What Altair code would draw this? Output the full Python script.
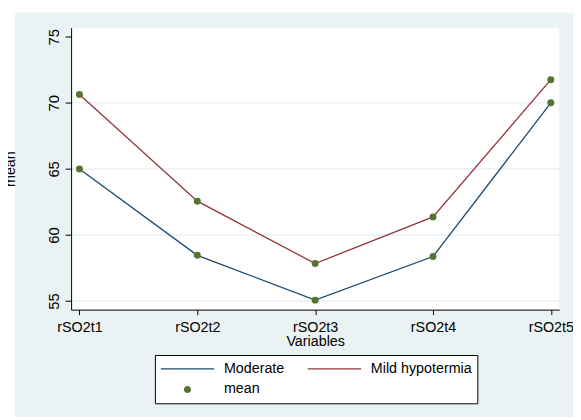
import altair as alt
import pandas as pd

# ---- data ----
times = ["rSO2t1", "rSO2t2", "rSO2t3", "rSO2t4", "rSO2t5"]
moderate = [65.0, 58.46, 55.07, 58.37, 70.0]
mild = [70.63, 62.56, 57.84, 61.37, 71.75]
y_ticks = [55, 60, 65, 70, 75]
grid_vals = [55, 60, 65, 70]
legend_items = ["Moderate", "Mild hypotermia", "mean"]

BLUE = "#1a476f"
RED = "#90353b"
GREEN = "#55752f"
BG = "#eaf2f3"
FONT = "Liberation Sans"

W, H = 495, 286

df = pd.DataFrame(
    {
        "time": times * 2,
        "mean": moderate + mild,
        "group": ["Moderate"] * len(times) + ["Mild hypotermia"] * len(times),
    }
)
grid_df = pd.DataFrame({"v": grid_vals})
leg_df = pd.DataFrame({"group": legend_items})
one = pd.DataFrame({"a": [0]})

yscale = alt.Scale(domain=[54.35, 75.69], nice=False, zero=False)
xscale = alt.Scale(type="point", padding=0.071)

x_axis = alt.Axis(
    title="Variables",
    labelFontSize=14.5,
    labelFont=FONT,
    labelColor="black",
    labelPadding=6,
    tickSize=5,
    tickColor="black",
    domainColor="black",
    grid=False,
    labelAngle=0,
    titleFont=FONT,
    titleFontSize=14.5,
    titleFontWeight="normal",
    titleColor="black",
    titleBaseline="alphabetic",
    titleY=36,
    zindex=1,
)
y_axis = alt.Axis(
    title="mean",
    values=y_ticks,
    labelFontSize=15,
    labelFont=FONT,
    labelColor="black",
    labelAngle=270,
    labelAlign="center",
    labelBaseline="alphabetic",
    labelPadding=6.5,
    tickSize=6,
    tickColor="black",
    domainColor="black",
    grid=False,
    titleFont=FONT,
    titleFontSize=14.5,
    titleFontWeight="normal",
    titleColor="black",
    titleAngle=270,
    titleAlign="center",
    titleBaseline="alphabetic",
    titleX=-57.5,
    titleY=H / 2,
    zindex=1,
)

outer_bg = alt.Chart(one).mark_rect(color=BG).encode(
    x=alt.value(-57), x2=alt.value(W + 14), y=alt.value(-15), y2=alt.value(H + 109)
)
plot_bg = alt.Chart(one).mark_rect(color="white").encode(
    x=alt.value(0), x2=alt.value(W), y=alt.value(0), y2=alt.value(H)
)
grid = alt.Chart(grid_df).mark_rule(color=BG, strokeWidth=1.5).encode(
    y=alt.Y("v:Q", scale=yscale, axis=y_axis), x=alt.value(0), x2=alt.value(W)
)

lines = alt.Chart(df).mark_line(strokeWidth=1.3).encode(
    x=alt.X("time:O", scale=xscale, axis=x_axis, sort=times),
    y=alt.Y("mean:Q", scale=yscale, axis=y_axis),
    color=alt.Color(
        "group:N",
        scale=alt.Scale(domain=["Moderate", "Mild hypotermia"], range=[BLUE, RED]),
        legend=None,
    ),
)
points = alt.Chart(df).mark_point(filled=True, size=50, color=GREEN, opacity=1).encode(
    x=alt.X("time:O", scale=xscale, axis=x_axis, sort=times),
    y=alt.Y("mean:Q", scale=yscale, axis=y_axis),
)

# symbol paths are scaled by sqrt(symbolSize)/2 = 27 px
LINE_PATH = "M-1,0L1,0"
r = 0.135
DOT_PATH = f"M-{r},0A{r},{r},0,1,1,{r},0A{r},{r},0,1,1,-{r},0Z"

leg = alt.Legend(
    title=None,
    orient="none",
    direction="horizontal",
    legendX=85,
    legendY=332,
    columns=2,
    padding=5,
    strokeColor="black",
    fillColor="white",
    clipHeight=18,
    rowPadding=3,
    columnPadding=22,
    labelOffset=9,
    symbolOffset=0,
    symbolSize=2916,
    labelFont=FONT,
    labelFontSize=14.5,
    labelColor="black",
    labelLimit=0,
    symbolStrokeWidth=1.3,
    symbolOpacity=1,
)
dom = legend_items
legend_layer = alt.Chart(leg_df).mark_point(opacity=0, filled=True).encode(
    fill=alt.Fill("group:N", scale=alt.Scale(domain=dom, range=["transparent", "transparent", GREEN]), legend=leg),
    stroke=alt.Stroke("group:N", scale=alt.Scale(domain=dom, range=[BLUE, RED, "transparent"]), legend=leg),
    shape=alt.Shape("group:N", scale=alt.Scale(domain=dom, range=[LINE_PATH, LINE_PATH, DOT_PATH]), legend=leg),
)

chart = (
    alt.layer(outer_bg, plot_bg, grid, lines, points, legend_layer)
    .properties(
        width=W,
        height=H,
        autosize=alt.AutoSizeParams(type="none"),
        padding={"left": 64, "top": 17, "right": 14, "bottom": 109},
        background="white",
    )
    .configure_view(stroke=None)
)

chart.save("out.html", embed_options={"renderer": "svg", "actions": False})
